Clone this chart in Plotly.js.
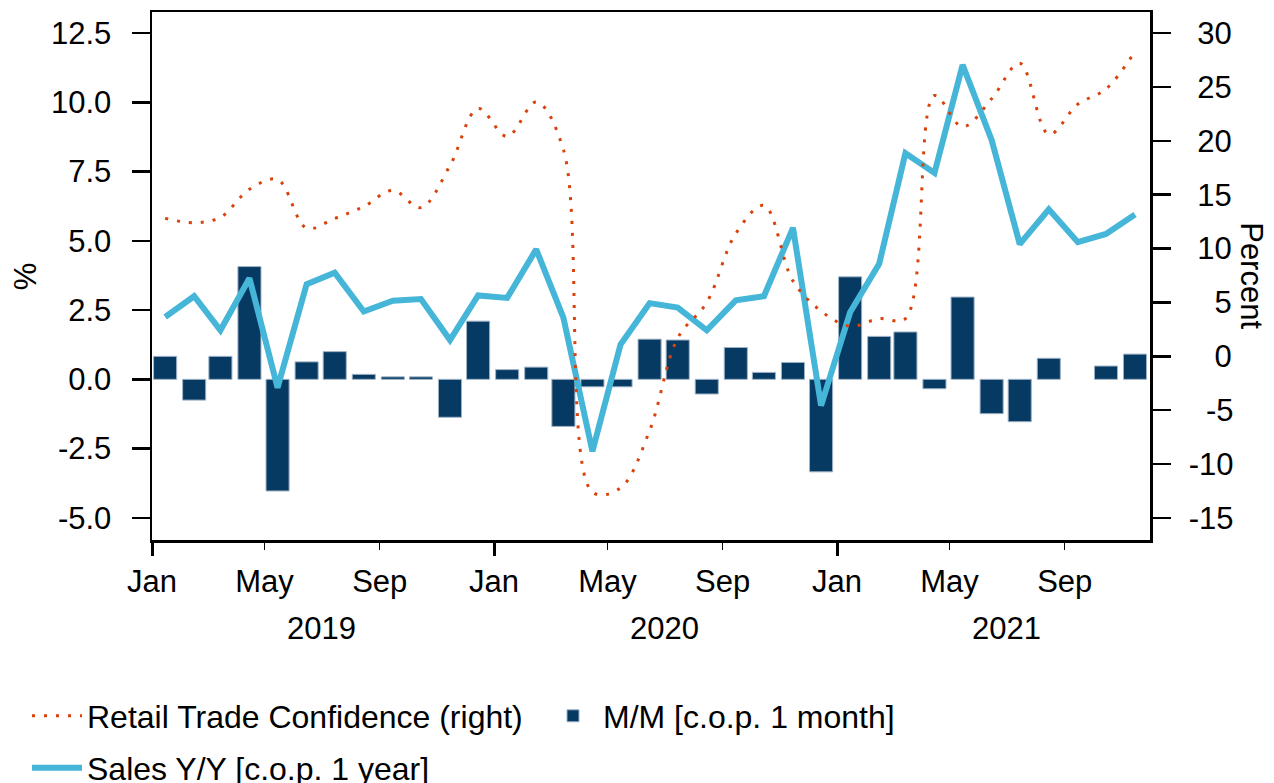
<!DOCTYPE html>
<html>
<head>
<meta charset="utf-8">
<script src="https://cdn.plot.ly/plotly-3.0.1.min.js"></script>
<style>
html,body{margin:0;padding:0;background:#ffffff;}
#chart{width:1274px;height:783px;}
</style>
</head>
<body>
<div id="chart"></div>
<script>
// ---- data ----
const months = [
  '2019-01','2019-02','2019-03','2019-04','2019-05','2019-06','2019-07','2019-08','2019-09','2019-10','2019-11','2019-12',
  '2020-01','2020-02','2020-03','2020-04','2020-05','2020-06','2020-07','2020-08','2020-09','2020-10','2020-11','2020-12',
  '2021-01','2021-02','2021-03','2021-04','2021-05','2021-06','2021-07','2021-08','2021-09','2021-10','2021-11'
];
const mmChange = [
  0.83, -0.75, 0.83, 4.07, -4.03, 0.63, 1.00, 0.18, 0.09, 0.09, -1.37, 2.10,
  0.35, 0.44, -1.70, -0.27, -0.27, 1.45, 1.42, -0.53, 1.15, 0.25, 0.61, -3.34,
  3.70, 1.55, 1.71, -0.34, 2.97, -1.24, -1.53, 0.76, null, 0.48, 0.91
];
const salesYoY = [
  2.25, 3.00, 1.77, 3.65, -0.30, 3.43, 3.85, 2.45, 2.84, 2.90, 1.42, 3.03,
  2.94, 4.69, 2.23, -2.60, 1.26, 2.75, 2.59, 1.77, 2.85, 3.00, 5.47, -0.95,
  2.42, 4.17, 8.16, 7.45, 11.35, 8.64, 4.88, 6.14, 4.95, 5.25, 5.95
];
const retailConfidence = [
  12.8, 12.4, 12.9, 15.5, 16.4, 11.9, 12.8, 13.9, 15.4, 13.8, 17.7, 23.0,
  20.4, 23.6, 19.2, -12.6, -12.2, -6.9, 1.7, 5.0, 11.4, 14.0, 7.0, 4.2,
  2.8, 3.5, 3.5, 24.2, 21.3, 23.9, 27.2, 20.6, 23.4, 24.8, 28.3
];
const xTickMonths = ['2019-01','2019-05','2019-09','2020-01','2020-05','2020-09','2021-01','2021-05','2021-09'];
const xTickLabels = ['Jan','May','Sep','Jan','May','Sep','Jan','May','Sep'];
const yearMonths = ['2019-01','2020-01','2021-01'];
const yearLabels = ['2019','2020','2021'];
const leftTicks = [-5, -2.5, 0, 2.5, 5, 7.5, 10, 12.5];
const rightTicks = [-15, -10, -5, 0, 5, 10, 15, 20, 25, 30];
const seriesNames = ['Retail Trade Confidence (right)', 'M/M [c.o.p. 1 month]', 'Sales Y/Y [c.o.p. 1 year]'];

// ---- styling ----
const FONT = 'Liberation Sans, Arial, Helvetica, sans-serif';
const FS = 31;
const LFS = 32;
const NAVY = '#063a63';
const SKY = '#45b5d8';
const ORANGE = '#d9420b';

const xDates = months.map(m => m + '-15');
const xRange = ['2019-01-01', '2021-12-01'];

// right axis labels padded so they appear right-aligned
function padRight(v) {
  const s = String(v);
  if (v < 0 && s.length === 2) return '\u2007' + s;
  if (v >= 0 && s.length === 1) return '\u2007\u2008' + s;
  if (v >= 0 && s.length === 2) return '\u2008' + s;
  return s;
}

const traces = [
  {
    type: 'bar', x: xDates, y: mmChange, name: seriesNames[1],
    xaxis: 'x', yaxis: 'y',
    marker: {color: NAVY, line: {color: '#9fb3c6', width: 1}},
    legend: 'legend3', hoverinfo: 'skip'
  },
  {
    type: 'scatter', mode: 'lines', x: xDates, y: salesYoY, name: seriesNames[2],
    xaxis: 'x', yaxis: 'y',
    line: {color: SKY, width: 6, shape: 'linear'},
    legend: 'legend2', hoverinfo: 'skip'
  },
  {
    type: 'scatter', mode: 'lines', x: xDates, y: retailConfidence, name: seriesNames[0],
    xaxis: 'x2', yaxis: 'y2',
    line: {color: ORANGE, width: 3, dash: '3px,9px', shape: 'spline', smoothing: 1},
    legend: 'legend', hoverinfo: 'skip'
  }
];

const annotations = yearMonths.map((m, i) => ({
  text: yearLabels[i], xref: 'x', yref: 'paper',
  x: m.slice(0,4) + '-07-01', y: -0.1667, xanchor: 'center', yanchor: 'middle',
  showarrow: false, font: {family: FONT, size: FS, color: '#000'}
}));
annotations.push({
  text: 'Percent', xref: 'paper', yref: 'paper', x: 1.102, y: 0.5,
  xanchor: 'center', yanchor: 'middle', textangle: 90, showarrow: false,
  font: {family: FONT, size: FS, color: '#000'}
});
annotations.push({
  text: '%', xref: 'paper', yref: 'paper', x: -0.127, y: 0.5,
  xanchor: 'center', yanchor: 'middle', textangle: -90, showarrow: false,
  font: {family: FONT, size: FS, color: '#000'}
});

function legendAt(xpx, ypx) {
  return {
    orientation: 'h', xref: 'container', yref: 'container',
    x: xpx / 1274, y: (783 - ypx) / 783, xanchor: 'left', yanchor: 'middle',
    font: {family: FONT, size: LFS, color: '#000'},
    bgcolor: 'rgba(0,0,0,0)', borderwidth: 0, itemwidth: 50
  };
}

const layout = {
  width: 1274, height: 783,
  margin: {l: 152, r: 124, t: 12, b: 243, pad: 0},
  paper_bgcolor: '#ffffff', plot_bgcolor: '#ffffff',
  font: {family: FONT, size: FS, color: '#000'},
  showlegend: true,
  bargap: 0.12,
  xaxis: {
    type: 'date', range: xRange,
    tickmode: 'array', tickvals: xTickMonths.map(m => m + '-01'), ticktext: xTickLabels,
    ticks: 'outside', ticklen: 7, tickwidth: 1.5, tickcolor: '#000',
    showline: true, linecolor: '#000', linewidth: 2.5, mirror: true,
    showgrid: false, zeroline: false, ticklabelstandoff: 5,
    tickfont: {family: FONT, size: FS, color: '#000'}
  },
  xaxis2: {
    type: 'date', range: xRange, overlaying: 'x', anchor: 'y2', side: 'bottom',
    tickmode: 'array', tickvals: yearMonths.map(m => m + '-01'),
    ticks: 'outside', ticklen: 15, tickwidth: 3, tickcolor: '#000',
    showticklabels: false, showline: false, showgrid: false, zeroline: false
  },
  yaxis: {
    range: [-5.8, 13.26],
    tickmode: 'array', tickvals: leftTicks, ticktext: leftTicks.map(v => v.toFixed(1)),
    ticks: 'outside', ticklen: 18, tickwidth: 2.5, tickcolor: '#000',
    showline: true, linecolor: '#000', linewidth: 2.5, mirror: true,
    showgrid: false, zeroline: false, ticklabelstandoff: 14,
    tickfont: {family: FONT, size: FS, color: '#000'}
  },
  yaxis2: {
    range: [-17.04, 31.95], overlaying: 'y', side: 'right', anchor: 'x2',
    tickmode: 'array', tickvals: rightTicks, ticktext: rightTicks.map(padRight),
    ticks: 'outside', ticklen: 18, tickwidth: 2.5, tickcolor: '#000',
    showline: true, linecolor: '#000', linewidth: 2.5,
    showgrid: false, zeroline: false, ticklabelstandoff: 12,
    tickfont: {family: FONT, size: FS, color: '#000'}
  },
  legend: legendAt(27, 716),
  legend2: legendAt(27, 768),
  legend3: legendAt(543, 716),
  annotations: annotations
};

Plotly.newPlot('chart', traces, layout, {displayModeBar: false, staticPlot: true});
</script>
</body>
</html>
